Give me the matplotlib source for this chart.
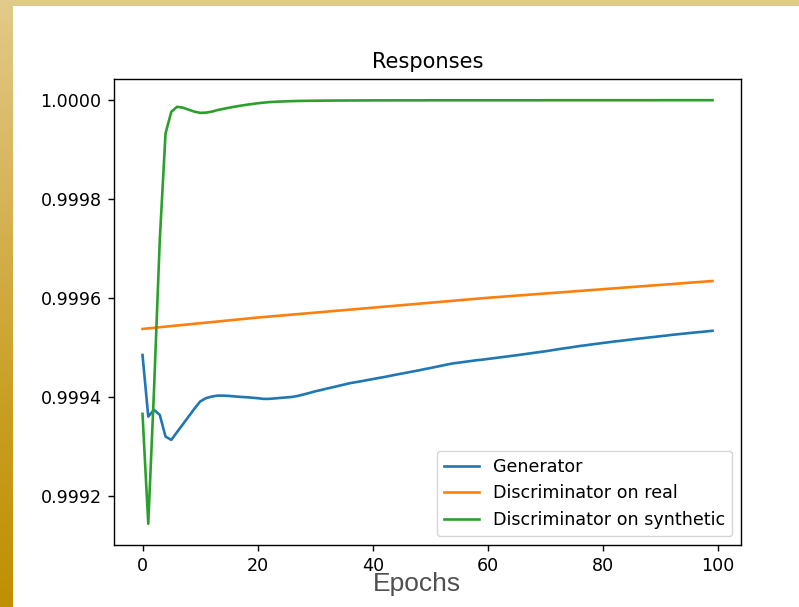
import numpy as np
import matplotlib
matplotlib.use("Agg")
import matplotlib.pyplot as plt
from matplotlib.colors import LinearSegmentedColormap
from matplotlib.patches import Rectangle

# mean responses per epoch
epochs = np.arange(100)

generator = [
    0.9994848, 0.9993602, 0.9993737, 0.9993636, 0.9993198, 0.9993131, 0.9993289, 0.9993444, 0.9993602, 0.9993758,
    0.9993905, 0.9993974, 0.9994006, 0.9994026, 0.9994026, 0.9994020, 0.9994010, 0.9994000, 0.9993994, 0.9993984,
    0.9993974, 0.9993960, 0.9993960, 0.9993970, 0.9993980, 0.9993990, 0.9994000, 0.9994020, 0.9994050, 0.9994080,
    0.9994113, 0.9994139, 0.9994168, 0.9994194, 0.9994222, 0.9994249, 0.9994277, 0.9994297, 0.9994317, 0.9994339,
    0.9994360, 0.9994382, 0.9994402, 0.9994426, 0.9994449, 0.9994471, 0.9994493, 0.9994515, 0.9994537, 0.9994562,
    0.9994584, 0.9994608, 0.9994632, 0.9994657, 0.9994679, 0.9994693, 0.9994709, 0.9994725, 0.9994741, 0.9994752,
    0.9994768, 0.9994782, 0.9994798, 0.9994812, 0.9994828, 0.9994842, 0.9994859, 0.9994875, 0.9994891, 0.9994907,
    0.9994923, 0.9994941, 0.9994960, 0.9994978, 0.9994994, 0.9995012, 0.9995030, 0.9995044, 0.9995061, 0.9995075,
    0.9995091, 0.9995105, 0.9995121, 0.9995133, 0.9995147, 0.9995162, 0.9995176, 0.9995188, 0.9995202, 0.9995214,
    0.9995228, 0.9995240, 0.9995255, 0.9995267, 0.9995279, 0.9995291, 0.9995303, 0.9995313, 0.9995325, 0.9995337,
]

disc_real = [
    0.9995374, 0.9995386, 0.9995397, 0.9995409, 0.9995420, 0.9995432, 0.9995443, 0.9995455, 0.9995466, 0.9995478,
    0.9995489, 0.9995501, 0.9995512, 0.9995524, 0.9995535, 0.9995547, 0.9995558, 0.9995570, 0.9995581, 0.9995593,
    0.9995604, 0.9995614, 0.9995624, 0.9995634, 0.9995644, 0.9995654, 0.9995664, 0.9995674, 0.9995684, 0.9995694,
    0.9995704, 0.9995714, 0.9995724, 0.9995734, 0.9995744, 0.9995754, 0.9995764, 0.9995774, 0.9995784, 0.9995794,
    0.9995804, 0.9995814, 0.9995824, 0.9995834, 0.9995844, 0.9995854, 0.9995864, 0.9995874, 0.9995884, 0.9995894,
    0.9995904, 0.9995914, 0.9995924, 0.9995934, 0.9995944, 0.9995954, 0.9995964, 0.9995974, 0.9995984, 0.9995994,
    0.9996004, 0.9996013, 0.9996021, 0.9996030, 0.9996039, 0.9996048, 0.9996056, 0.9996065, 0.9996074, 0.9996082,
    0.9996091, 0.9996100, 0.9996108, 0.9996117, 0.9996126, 0.9996135, 0.9996143, 0.9996152, 0.9996161, 0.9996169,
    0.9996178, 0.9996187, 0.9996195, 0.9996204, 0.9996213, 0.9996222, 0.9996230, 0.9996239, 0.9996248, 0.9996256,
    0.9996265, 0.9996274, 0.9996282, 0.9996291, 0.9996300, 0.9996309, 0.9996317, 0.9996326, 0.9996335, 0.9996343,
]

disc_synth = [
    0.9993657, 0.9991434, 0.9994141, 0.9997172, 0.9999327, 0.9999764, 0.9999865, 0.9999848, 0.9999808, 0.9999768,
    0.9999743, 0.9999747, 0.9999766, 0.9999798, 0.9999822, 0.9999846, 0.9999867, 0.9999887, 0.9999905, 0.9999921,
    0.9999937, 0.9999949, 0.9999960, 0.9999966, 0.9999972, 0.9999976, 0.9999980, 0.9999983, 0.9999985, 0.9999987,
    0.9999988, 0.9999989, 0.9999990, 0.9999991, 0.9999992, 0.9999992, 0.9999993, 0.9999993, 0.9999994, 0.9999994,
    0.9999995, 0.9999995, 0.9999995, 0.9999995, 0.9999996, 0.9999996, 0.9999996, 0.9999996, 0.9999996, 0.9999996,
    0.9999997, 0.9999997, 0.9999997, 0.9999997, 0.9999997, 0.9999997, 0.9999997, 0.9999997, 0.9999997, 0.9999997,
    0.9999997, 0.9999997, 0.9999997, 0.9999997, 0.9999997, 0.9999997, 0.9999997, 0.9999997, 0.9999997, 0.9999997,
    0.9999998, 0.9999998, 0.9999998, 0.9999998, 0.9999998, 0.9999998, 0.9999998, 0.9999998, 0.9999998, 0.9999998,
    0.9999998, 0.9999998, 0.9999998, 0.9999998, 0.9999998, 0.9999998, 0.9999998, 0.9999998, 0.9999998, 0.9999998,
    0.9999999, 0.9999999, 0.9999999, 0.9999999, 0.9999999, 0.9999999, 0.9999999, 0.9999999, 0.9999999, 0.9999999,
]

labels = ["Generator", "Discriminator on real", "Discriminator on synthetic"]

W, H = 799, 607
s = 1.263  # figure was rendered a bit larger than the default size

plt.rcParams.update({
    "font.family": "DejaVu Sans",
    "font.size": 10 * s,
    "lines.linewidth": 1.5 * s,
    "axes.linewidth": 0.8 * s,
    "axes.titlepad": 6 * s,
    "xtick.major.size": 3.5 * s,
    "ytick.major.size": 3.5 * s,
    "xtick.major.width": 0.8 * s,
    "ytick.major.width": 0.8 * s,
    "xtick.major.pad": 3.5 * s,
    "ytick.major.pad": 3.5 * s,
    "legend.fontsize": 10 * s,
})

fig = plt.figure(figsize=(W / 100, H / 100), dpi=100)

# gold frame behind the white page
bg = fig.add_axes([0, 0, 1, 1], zorder=-10)
gold = LinearSegmentedColormap.from_list(
    "gold", ["#e1cb8a", "#d6b356", "#c99f22", "#bf9000"])
bg.imshow(np.linspace(0, 1, 256).reshape(-1, 1), aspect="auto", cmap=gold,
          extent=[0, 1, 0, 1], origin="upper")
bg.add_patch(Rectangle((13 / W, 0), 1, 1 - 6 / H, color="white", lw=0))
bg.set_xlim(0, 1)
bg.set_ylim(0, 1)
bg.axis("off")

ax = fig.add_axes([114 / W, (H - 545) / H, (741 - 114) / W, (545 - 79) / H])
ax.plot(epochs, generator, label=labels[0])
ax.plot(epochs, disc_real, label=labels[1])
ax.plot(epochs, disc_synth, label=labels[2])
ax.set_title("Responses")
ax.legend(loc="lower right")

fig.text(417 / W, (H - 590.5) / H, "Epochs", ha="center", va="baseline",
         fontsize=19, color="#505050", family="Liberation Sans")

fig.savefig("out.png", dpi=100)
